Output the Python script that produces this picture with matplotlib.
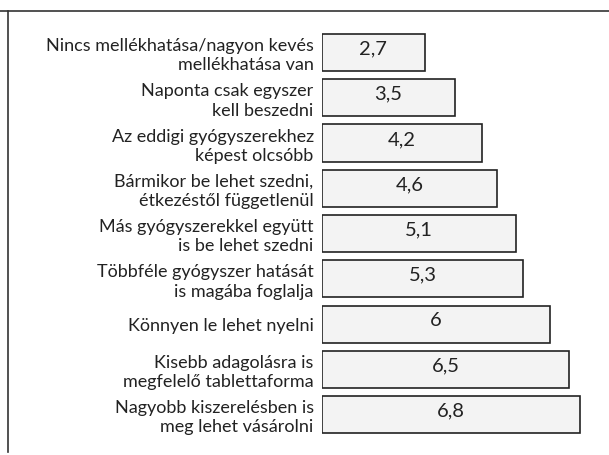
import matplotlib.pyplot as plt
from matplotlib.lines import Line2D

labels = [
    "Nincs mellékhatása/nagyon kevés\nmellékhatása van",
    "Naponta csak egyszer\nkell beszedni",
    "Az eddigi gyógyszerekhez\nképest olcsóbb",
    "Bármikor be lehet szedni,\nétkezéstől függetlenül",
    "Más gyógyszerekkel együtt\nis be lehet szedni",
    "Többféle gyógyszer hatását\nis magába foglalja",
    "Könnyen le lehet nyelni",
    "Kisebb adagolásra is\nmegfelelő tablettaforma",
    "Nagyobb kiszerelésben is\nmeg lehet vásárolni",
]
values = [2.7, 3.5, 4.2, 4.6, 5.1, 5.3, 6, 6.5, 6.8]
value_text = ["2,7", "3,5", "4,2", "4,6", "5,1", "5,3", "6", "6,5", "6,8"]

plt.rcParams['font.family'] = ['Lato', 'DejaVu Sans']

fig = plt.figure(figsize=(6.09, 4.55), dpi=100)
ax = fig.add_axes([0.5287, 0.0388, 0.4368, 0.8956])

pos = list(range(len(values)))
ax.barh(pos, values, height=0.82, color='#f3f3f3', edgecolor='#222222', linewidth=1.2)
for p, v, t in zip(pos, values, value_text):
    ax.text(v / 2, p - 0.08, t, ha='center', va='center', fontsize=14.5, color='#222222')

ax.set_yticks(pos)
ax.set_yticklabels(labels, fontsize=13, color='#222222', linespacing=1.25)
ax.tick_params(axis='y', length=0, pad=6)
ax.set_xlim(0, 7)
ax.set_ylim(8.5, -0.5)
ax.set_xticks([])
for s in ax.spines.values():
    s.set_visible(False)

# frame of the scanned box
fig.add_artist(Line2D([0.0, 1.0], [1 - 11 / 455, 1 - 11 / 455], color='#333333', lw=1.2))
fig.add_artist(Line2D([8 / 609, 8 / 609], [1 - 11 / 455, 1 - 452 / 455], color='#333333', lw=1.2))

fig.savefig('out.png', dpi=100, facecolor='white')
